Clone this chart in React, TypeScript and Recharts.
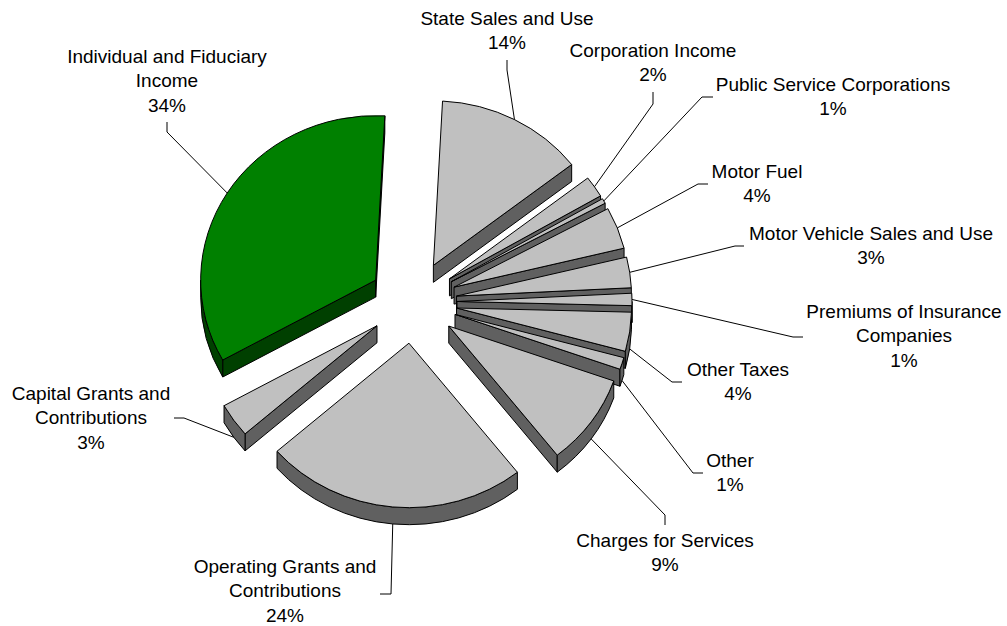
import { Pie, PieChart } from 'recharts';

const categories = [
  'State Sales and Use',
  'Corporation Income',
  'Public Service Corporations',
  'Motor Fuel',
  'Motor Vehicle Sales and Use',
  'Premiums of Insurance Companies',
  'Other Taxes',
  'Other',
  'Charges for Services',
  'Operating Grants and Contributions',
  'Capital Grants and Contributions',
  'Individual and Fiduciary Income',
];

// share of revenue (the labels round these)
const shares = [13.64, 2.08, 0.5, 4.1, 3.0, 1.2, 3.83, 1.17, 8.93, 24.18, 3.33, 33.84];

const labelLines = [
  ['State Sales and Use'],
  ['Corporation Income'],
  ['Public Service Corporations'],
  ['Motor Fuel'],
  ['Motor Vehicle Sales and Use'],
  ['Premiums of Insurance', 'Companies'],
  ['Other Taxes'],
  ['Other'],
  ['Charges for Services'],
  ['Operating Grants and', 'Contributions'],
  ['Capital Grants and', 'Contributions'],
  ['Individual and Fiduciary', 'Income'],
];

const data = categories.map((name, i) => ({ name, value: shares[i] }));

const HIGHLIGHT = 'Individual and Fiduciary Income';
const FACE = '#c0c0c0';
const WALL = '#606060';
const FACE_HIGHLIGHT = '#008000';
const WALL_HIGHLIGHT = '#004000';

const CX = 413;
const CY = 302;
const RADIUS = 175;
const SQUASH = 0.94; // pie is tilted a little, so it is not quite round
const EXPLODE = 44;
const DEPTH = 17;

// text centre, first baseline, and the leader line's elbow + end
const labelLayout = [
  { x: 507, y: 25, line: [[507, 70], [507, 60]] },
  { x: 653, y: 57, line: [[653, 104], [653, 92]] },
  { x: 833, y: 91, line: [[702, 97], [713, 97]] },
  { x: 757, y: 178, line: [[698, 184], [708, 184]] },
  { x: 871, y: 240, line: [[735, 246], [744, 246]] },
  { x: 904, y: 318, line: [[793, 337], [803, 337]] },
  { x: 738, y: 376, line: [[672, 382], [682, 382]] },
  { x: 730, y: 467, line: [[693, 473], [703, 473]] },
  { x: 665, y: 547, line: [[665, 515], [665, 525]] },
  { x: 285, y: 573, line: [[391, 594], [380, 594]] },
  { x: 91, y: 400, line: [[184, 418], [174, 418]] },
  { x: 167, y: 63, line: [[167, 132], [167, 122]] },
];

const rad = (deg: number) => (deg * Math.PI) / 180;

// clock angle: 0 at the top, growing clockwise
function explodedOrigin(cx: number, cy: number, midClock: number) {
  return {
    x: cx + EXPLODE * Math.sin(rad(midClock)),
    y: cy - EXPLODE * SQUASH * Math.cos(rad(midClock)),
  };
}

function SliceShape(props: any) {
  const { cx, cy, outerRadius, startAngle, endAngle, name } = props;
  const start = 90 - startAngle;
  const end = 90 - endAngle;
  const o = explodedOrigin(cx, cy, (start + end) / 2);
  const rx = outerRadius;
  const ry = outerRadius * SQUASH;
  const at = (clock: number, dy = 0) => ({
    x: o.x + rx * Math.sin(rad(clock)),
    y: o.y - ry * Math.cos(rad(clock)) + dy,
  });
  const big = end - start > 180 ? 1 : 0;
  const s = at(start);
  const e = at(end);
  const face = `M${o.x},${o.y} L${s.x},${s.y} A${rx},${ry} 0 ${big} 1 ${e.x},${e.y} Z`;

  const highlighted = name === HIGHLIGHT;
  const wallFill = highlighted ? WALL_HIGHLIGHT : WALL;
  const walls: string[] = [];

  const edgeWall = (p: { x: number; y: number }) =>
    `M${o.x},${o.y} L${p.x},${p.y} L${p.x},${p.y + DEPTH} L${o.x},${o.y + DEPTH} Z`;
  const norm = (a: number) => ((a % 360) + 360) % 360;
  if (norm(start) > 180) walls.push(edgeWall(s));
  if (norm(end) < 180) walls.push(edgeWall(e));

  const a0 = Math.max(start, 90);
  const a1 = Math.min(end, 270);
  if (a1 > a0) {
    const p = at(a0);
    const q = at(a1);
    walls.push(
      `M${p.x},${p.y} A${rx},${ry} 0 0 1 ${q.x},${q.y} L${q.x},${q.y + DEPTH} A${rx},${ry} 0 0 0 ${p.x},${p.y + DEPTH} Z`
    );
  }

  return (
    <g>
      {walls.map((d) => (
        <path key={d} d={d} fill={wallFill} stroke="#000" strokeWidth={1} strokeLinejoin="round" />
      ))}
      <path
        d={face}
        fill={highlighted ? FACE_HIGHLIGHT : FACE}
        stroke="#000"
        strokeWidth={1}
        strokeLinejoin="round"
      />
    </g>
  );
}

function SliceLabel(props: any) {
  const { cx, cy, outerRadius, midAngle, index, percent } = props;
  const layout = labelLayout[index];
  const mid = 90 - midAngle;
  const o = explodedOrigin(cx, cy, mid);
  const startX = o.x + outerRadius * Math.sin(rad(mid));
  // below the equator the line leaves from the bottom of the wall
  const startY =
    o.y - outerRadius * SQUASH * Math.cos(rad(mid)) + (mid > 92 && mid < 268 ? DEPTH : 0);
  const points = [[startX, startY], ...layout.line].map((p) => p.join(',')).join(' ');
  const lines = [...labelLines[index], `${Math.round(percent * 100)}%`];

  return (
    <g>
      <polyline points={points} fill="none" stroke="#000" strokeWidth={1} />
      <text
        x={layout.x}
        y={layout.y}
        textAnchor="middle"
        fontFamily="Liberation Sans"
        fontSize={19}
        fill="#000"
      >
        {lines.map((t, i) => (
          <tspan key={t} x={layout.x} dy={i === 0 ? 0 : 24.3}>
            {t}
          </tspan>
        ))}
      </text>
    </g>
  );
}

export default function App() {
  return (
    <div style={{ position: 'absolute', left: 0, top: 0, width: 1007, height: 626, background: '#fff' }}>
      <PieChart width={1007} height={626} margin={{ top: 0, right: 0, bottom: 0, left: 0 }}>
        <Pie
          data={data}
          dataKey="value"
          nameKey="name"
          cx={CX}
          cy={CY}
          outerRadius={RADIUS}
          startAngle={87}
          endAngle={-273}
          shape={SliceShape}
          label={SliceLabel}
          labelLine={false}
          isAnimationActive={false}
        />
      </PieChart>
    </div>
  );
}
